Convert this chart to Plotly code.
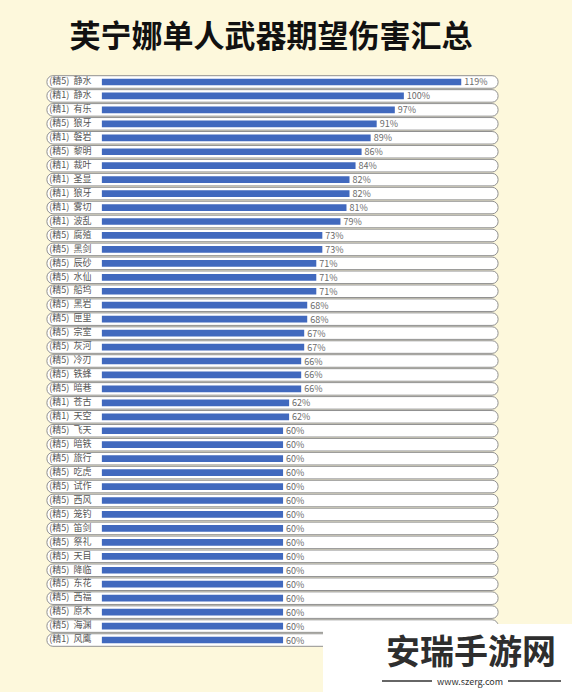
import plotly.graph_objects as go

weapons = ["(精5) 静水", "(精1) 静水", "(精1) 有乐", "(精5) 狼牙", "(精1) 磐岩", "(精5) 黎明",
           "(精1) 裁叶", "(精1) 圣显", "(精1) 狼牙", "(精1) 雾切", "(精1) 波乱", "(精5) 腐殖",
           "(精5) 黑剑", "(精5) 辰砂", "(精5) 水仙", "(精5) 船坞", "(精5) 黑岩", "(精5) 匣里",
           "(精5) 宗室", "(精5) 灰河", "(精5) 冷刃", "(精5) 铁蜂", "(精5) 暗巷", "(精1) 苍古",
           "(精1) 天空", "(精5) 飞天", "(精5) 暗铁", "(精5) 旅行", "(精5) 吃虎", "(精5) 试作",
           "(精5) 西风", "(精5) 笼钓", "(精5) 笛剑", "(精5) 祭礼", "(精5) 天目", "(精5) 降临",
           "(精5) 东花", "(精5) 西福", "(精5) 原木", "(精5) 海渊", "(精1) 风鹰"]
damage = [119, 100, 97, 91, 89, 86, 84, 82, 82, 81, 79, 73, 73, 71, 71, 71, 68, 68, 67, 67,
          66, 66, 66, 62, 62, 60, 60, 60, 60, 60, 60, 60, 60, 60, 60, 60, 60, 60, 60, 60, 60]
title_text = "芙宁娜单人武器期望伤害汇总"

n = len(weapons)
rows = list(range(n))
X_MIN, X_MAX = -18.5, 131.5
FONT = "Noto Sans CJK SC"
BG = "#fdf8dc"
L, R, T, B = 46, 73, 75, 45
PW, PH = 572 - L - R, 692 - T - B


def px(x):
    return (x - L) / PW


def py(y):
    return (692 - B - y) / PH


fig = go.Figure()
# row backgrounds (rounded white boxes)
fig.add_trace(go.Bar(
    y=rows, x=[X_MAX - X_MIN - 0.6] * n, base=[X_MIN + 0.3] * n, orientation="h",
    width=0.9, marker=dict(color="white", line=dict(color="#909090", width=1), cornerradius=6),
    hoverinfo="skip", showlegend=False))
# damage bars
fig.add_trace(go.Bar(
    y=rows, x=damage, orientation="h", width=0.48,
    marker=dict(color="#4169be", line=dict(width=0)),
    text=[f"{v}%" for v in damage], textposition="outside", constraintext="none",
    textfont=dict(family=FONT, size=9, color="#6b6b6b"), cliponaxis=False,
    showlegend=False))
# weapon labels
fig.add_trace(go.Scatter(
    y=rows, x=[X_MIN + 1.1] * n, mode="text", text=[w.replace(" ", "  ") for w in weapons],
    textposition="middle right",
    textfont=dict(family=FONT, size=9, color="#555555"), showlegend=False, hoverinfo="skip"))

fig.update_layout(
    width=572, height=692, barmode="overlay",
    paper_bgcolor=BG, plot_bgcolor=BG,
    margin=dict(l=L, r=R, t=T, b=B),
    title=dict(text=title_text, x=271 / 572, xanchor="center", y=1 - 36 / 692, yanchor="middle",
               font=dict(family=FONT, size=31, color="#111111", weight="bold")),
    xaxis=dict(range=[X_MIN, X_MAX], visible=False, fixedrange=True),
    yaxis=dict(range=[n - 0.5, -0.5], visible=False, fixedrange=True),
    shapes=[
        dict(type="rect", xref="paper", yref="paper", x0=px(323), x1=px(572),
             y0=py(692), y1=py(624), fillcolor="white", line=dict(width=0), layer="above"),
        dict(type="line", xref="paper", yref="paper", x0=px(382), x1=px(432),
             y0=py(681), y1=py(681), line=dict(color="#333333", width=1.5), layer="above"),
        dict(type="line", xref="paper", yref="paper", x0=px(508), x1=px(561),
             y0=py(681), y1=py(681), line=dict(color="#333333", width=1.5), layer="above"),
    ],
    annotations=[
        dict(text="安瑞手游网", xref="paper", yref="paper", x=px(471), y=py(649),
             showarrow=False, font=dict(family=FONT, size=34, color="#2e2e2e", weight="bold"),
             xanchor="center", yanchor="middle"),
        dict(text="www.szerg.com", xref="paper", yref="paper", x=px(470),
             y=py(681), showarrow=False, font=dict(family=FONT, size=9, color="#333333"),
             xanchor="center", yanchor="middle"),
    ],
)

fig.write_html("out.html", config={"displayModeBar": False}, post_script=(
    "document.body.style.margin='0';document.body.style.padding='0';"
    "document.body.style.background='%s';document.body.style.overflow='hidden';" % BG))
